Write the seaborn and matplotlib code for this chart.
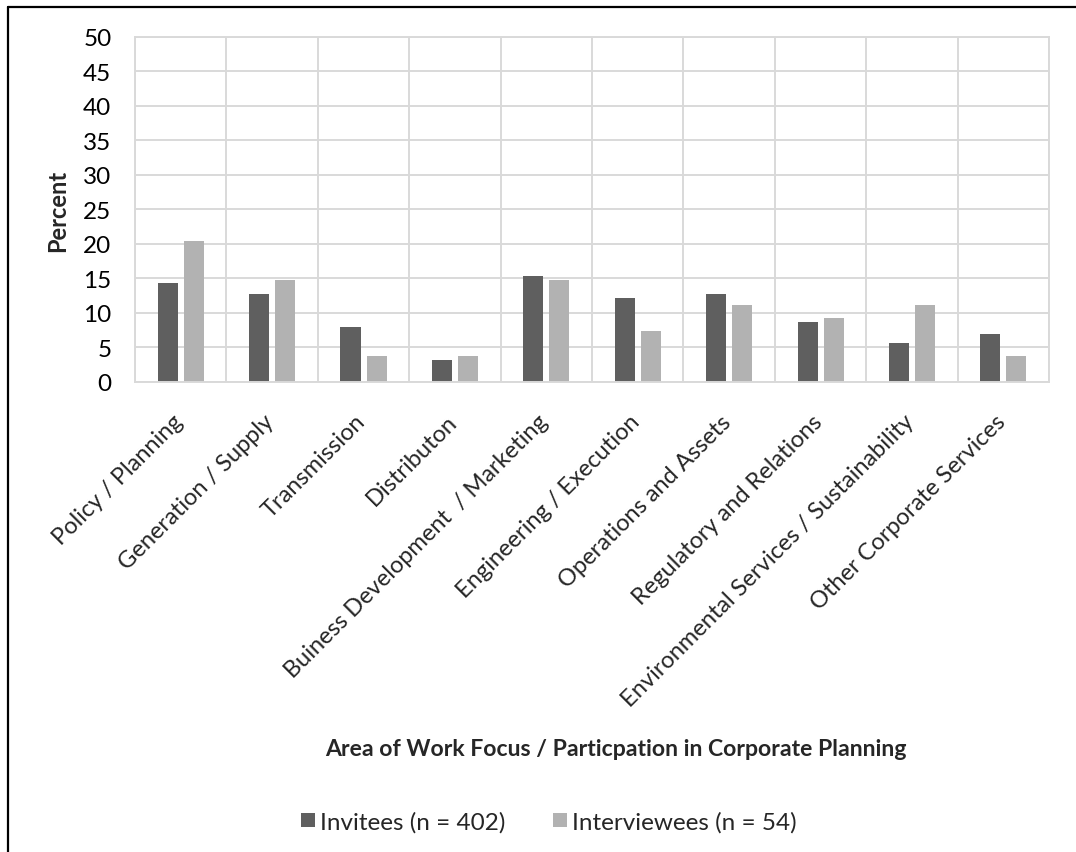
import matplotlib
matplotlib.use("Agg")
import matplotlib.pyplot as plt
import matplotlib.transforms as mtransforms
from matplotlib.lines import Line2D
import numpy as np
import pandas as pd
import seaborn as sns

# Share of each group by area of work focus (percent)
categories = [
    "Policy / Planning",
    "Generation / Supply",
    "Transmission",
    "Distributon",
    "Buiness Development  / Marketing",
    "Engineering / Execution",
    "Operations and Assets",
    "Regulatory and Relations",
    "Environmental Services / Sustainability",
    "Other Corporate Services",
]
invitees = [14.4, 12.7, 8.0, 3.2, 15.4, 12.2, 12.7, 8.7, 5.7, 7.0]
interviewees = [20.4, 14.8, 3.7, 3.7, 14.8, 7.4, 11.1, 9.3, 11.1, 3.7]
series_names = ["Invitees (n = 402)", "Interviewees (n = 54)"]
y_ticks = [0, 5, 10, 15, 20, 25, 30, 35, 40, 45, 50]

sns.set_theme(style="white")
plt.rcParams["font.family"] = ["Lato", "DejaVu Sans"]

df = pd.DataFrame({
    "category": categories * 2,
    "group": [series_names[0]] * len(categories) + [series_names[1]] * len(categories),
    "value": invitees + interviewees,
})

fig = plt.figure(figsize=(10.76, 8.53), dpi=100)
ax = fig.add_axes([0.1255, 0.551, 0.8495, 0.4045])

palette = {series_names[0]: "#5f5f5f", series_names[1]: "#b2b2b2"}
sns.barplot(data=df, x="category", y="value", hue="group", order=categories,
            hue_order=series_names, palette=palette, width=0.57, gap=0.23,
            saturation=1, linewidth=0, ax=ax, legend=False)

grid_c = "#d9d9d9"
ax.set_xlim(-0.5, len(categories) - 0.5)
ax.set_ylim(0, 50)
ax.set_yticks(y_ticks)
ax.set_yticklabels([str(t) for t in y_ticks], fontsize=17.5, color="#000000")
ax.tick_params(axis="y", length=0, pad=17)
ax.tick_params(axis="x", length=0, pad=4)

# Gridlines: horizontal at each tick, vertical between categories
ax.set_xticks(np.arange(-0.5, len(categories)), minor=True)
ax.grid(axis="y", which="major", color=grid_c, linewidth=1.4)
ax.grid(axis="x", which="minor", color=grid_c, linewidth=1.4)
ax.grid(axis="x", which="major", visible=False)
ax.set_axisbelow(True)
for s in ax.spines.values():
    s.set_color(grid_c)
    s.set_linewidth(1.4)

ax.set_xticks(range(len(categories)))
labels = ax.set_xticklabels(categories, rotation=45, ha="right",
                            rotation_mode="anchor", fontsize=17)
shift = mtransforms.ScaledTranslation(-9 / 100, -23 / 100, fig.dpi_scale_trans)
for lab in labels:
    lab.set_transform(lab.get_transform() + shift)

ax.set_xlabel("")
ax.set_ylabel("Percent", fontsize=17, fontweight="bold", labelpad=10)

fig.text(616 / 1076, 1 - 750 / 853, "Area of Work Focus / Particpation in Corporate Planning",
         ha="center", va="center", fontsize=16.6, fontweight="bold")

handles = [Line2D([], [], marker="s", linestyle="none", markersize=9.5,
                  markerfacecolor=palette[n], markeredgewidth=0) for n in series_names]
fig.legend(handles, series_names, loc="center", bbox_to_anchor=(548 / 1076, 1 - 823 / 853),
           ncol=2, frameon=False, fontsize=17.5, handletextpad=0.15, columnspacing=1.9,
           handlelength=0.7)

# Outer frame lines along the top and left edges
fig.add_artist(Line2D([8 / 1076, 1.0], [1 - 8 / 853, 1 - 8 / 853], color="black",
                      linewidth=1.6, transform=fig.transFigure))
fig.add_artist(Line2D([8 / 1076, 8 / 1076], [1 - 8 / 853, 0.0], color="black",
                      linewidth=1.6, transform=fig.transFigure))

fig.savefig("out.png", dpi=100, facecolor="white")
